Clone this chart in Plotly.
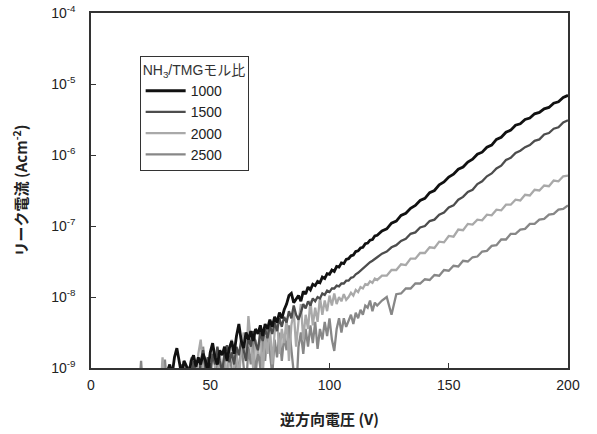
import plotly.graph_objects as go
import numpy as np

# Reverse voltage grid (V): 1 V steps up to 120 V, 2 V steps after
voltage = list(range(20, 121)) + list(range(122, 201, 2))

series_names = ["1000", "1500", "2000", "2500"]

# log10 of leakage current density (A/cm^2)
log_j_1000 = [
    -9.4, -9.4, -9.4, -9.4, -9.4, -9.4, -9.4, -9.4, -9.4, -9.4,
    -9.4, -9.4, -9.05, -8.95, -9.1, -8.85, -8.72, -8.95, -9.1, -8.9,
    -8.97, -9.1, -8.9, -8.82, -8.98, -8.85, -8.95, -8.8, -8.9, -9.05,
    -8.78, -8.65, -8.85, -8.95, -8.75, -8.82, -8.7, -8.9, -8.72, -8.62,
    -8.8, -8.55, -8.38, -8.62, -8.72, -8.5, -8.6, -8.48, -8.62, -8.45,
    -8.52, -8.4, -8.55, -8.38, -8.45, -8.32, -8.42, -8.28, -8.36, -8.22,
    -8.3, -8.18, -8.1, -7.98, -7.95, -8.08, -8.02, -7.98, -8.06, -7.92,
    -7.96, -7.86, -7.9, -7.82, -7.84, -7.78, -7.8, -7.72, -7.74, -7.67,
    -7.68, -7.62, -7.64, -7.57, -7.58, -7.52, -7.53, -7.47, -7.46, -7.42,
    -7.41, -7.36, -7.35, -7.31, -7.3, -7.25, -7.24, -7.2, -7.19, -7.14,
    -7.13,
    -7.07, -7.04, -6.96, -6.93, -6.85, -6.82, -6.75, -6.71, -6.64, -6.61,
    -6.53, -6.50, -6.42, -6.38, -6.31, -6.27, -6.20, -6.17, -6.10, -6.06,
    -5.99, -5.96, -5.89, -5.86, -5.78, -5.75, -5.68, -5.65, -5.58, -5.56,
    -5.50, -5.48, -5.42, -5.40, -5.35, -5.33, -5.27, -5.25, -5.19, -5.16,
]

log_j_1500 = [
    -9.4, -9.4, -9.4, -9.4, -9.4, -9.4, -9.4, -9.4, -9.4, -9.4,
    -9.4, -9.4, -9.4, -9.4, -9.4, -9.2, -9.05, -9.3, -8.95, -9.1,
    -9.3, -8.98, -9.15, -8.9, -9.05, -9.2, -8.9, -8.75, -9.0, -8.85,
    -9.1, -8.8, -8.95, -8.7, -8.9, -9.05, -8.8, -8.68, -8.92, -8.78,
    -8.95, -8.7, -8.82, -8.6, -8.75, -8.9, -8.55, -8.7, -8.48, -8.65,
    -8.75, -8.5, -8.62, -8.45, -8.58, -8.4, -8.52, -8.36, -8.48, -8.3,
    -8.42, -8.28, -8.36, -8.2, -8.3, -8.12, -8.25, -8.32, -8.22, -8.1,
    -8.16, -8.06, -8.12, -8.02, -8.06, -8.0, -8.02, -7.95, -7.97, -7.91,
    -7.93, -7.88, -7.88, -7.84, -7.85, -7.81, -7.81, -7.77, -7.77, -7.73,
    -7.72, -7.68, -7.66, -7.63, -7.6, -7.56, -7.54, -7.51, -7.49, -7.46,
    -7.44,
    -7.39, -7.36, -7.30, -7.27, -7.21, -7.18, -7.11, -7.09, -7.02, -7.00,
    -6.93, -6.91, -6.84, -6.81, -6.74, -6.71, -6.63, -6.59, -6.52, -6.49,
    -6.41, -6.37, -6.30, -6.26, -6.19, -6.15, -6.07, -6.04, -5.97, -5.94,
    -5.89, -5.86, -5.80, -5.78, -5.71, -5.69, -5.63, -5.61, -5.54, -5.51,
]

log_j_2000 = [
    -9.4, -9.4, -9.4, -9.4, -9.4, -9.4, -9.4, -9.4, -9.4, -9.4,
    -8.85, -9.3, -9.4, -9.2, -9.4, -9.0, -9.4, -9.1, -9.3, -8.9,
    -9.2, -9.4, -8.85, -9.1, -9.3, -8.8, -8.6, -9.0, -9.3, -8.85,
    -9.1, -8.7, -9.0, -9.3, -8.8, -9.1, -8.75, -9.2, -8.85, -8.6,
    -9.0, -8.75, -9.2, -8.7, -8.5, -8.9, -8.27, -8.7, -9.0, -8.6,
    -8.8, -8.45, -9.1, -8.55, -8.8, -8.4, -8.95, -8.5, -8.3, -8.8,
    -8.45, -8.65, -8.3, -8.9, -8.4, -8.2, -8.7, -8.35, -8.1, -8.6,
    -8.25, -8.45, -8.05, -8.4, -8.15, -8.35, -8.0, -8.25, -8.05, -8.2,
    -7.98, -8.12, -7.95, -8.1, -8.0, -8.06, -7.96, -8.04, -8.0, -7.94,
    -7.98, -7.9, -7.93, -7.86, -7.88, -7.82, -7.83, -7.78, -7.8, -7.74,
    -7.76,
    -7.70, -7.70, -7.62, -7.62, -7.54, -7.55, -7.46, -7.46, -7.38, -7.38,
    -7.30, -7.31, -7.22, -7.23, -7.14, -7.15, -7.05, -7.06, -6.97, -6.98,
    -6.91, -6.92, -6.84, -6.85, -6.77, -6.78, -6.70, -6.70, -6.63, -6.64,
    -6.56, -6.57, -6.49, -6.50, -6.43, -6.44, -6.36, -6.37, -6.30, -6.29,
]

log_j_2500 = [
    -9.4, -8.9, -9.4, -9.0, -9.4, -9.4, -9.4, -9.4, -9.4, -9.4,
    -9.4, -8.88, -9.3, -9.4, -9.1, -9.4, -9.2, -9.4, -9.0, -9.3,
    -9.4, -9.05, -9.3, -9.4, -8.95, -9.2, -9.4, -8.7, -9.1, -9.35,
    -8.9, -9.2, -9.4, -8.8, -9.1, -9.3, -8.9, -9.2, -8.75, -9.05,
    -9.3, -8.8, -9.1, -8.65, -9.0, -9.3, -8.7, -8.95, -8.6, -9.1,
    -8.75, -9.0, -8.6, -8.9, -8.45, -8.8, -9.1, -8.6, -8.85, -8.5,
    -8.9, -8.55, -8.75, -8.4, -8.8, -9.2, -9.4, -8.7, -8.5, -8.8,
    -8.45, -8.7, -8.4, -8.65, -8.35, -8.73, -8.45, -8.6, -8.35, -8.55,
    -8.3, -8.6, -8.76, -8.45, -8.3, -8.5, -8.3, -8.42, -8.34, -8.25,
    -8.38, -8.22, -8.3, -8.18, -8.25, -8.12, -8.15, -8.05, -8.2, -8.08,
    -8.12,
    -8.05, -8.0, -8.25, -7.96, -7.95, -7.88, -7.88, -7.81, -7.81, -7.75,
    -7.76, -7.69, -7.70, -7.62, -7.63, -7.56, -7.57, -7.49, -7.50, -7.44,
    -7.43, -7.36, -7.35, -7.28, -7.27, -7.19, -7.19, -7.11, -7.11, -7.05,
    -7.04, -6.97, -6.97, -6.91, -6.90, -6.84, -6.83, -6.77, -6.76, -6.71,
]

y_tick_exponents = [-9, -8, -7, -6, -5, -4]
x_tick_values = [0, 50, 100, 150, 200]

series_logs = [log_j_1000, log_j_1500, log_j_2000, log_j_2500]
series_colors = ["#111111", "#4d4d4d", "#a9a9a9", "#878787"]
series_widths = [2.8, 2.3, 2.3, 2.3]

fig = go.Figure()
# draw lighter curves first so the black curve sits on top
for idx in [3, 2, 1, 0]:
    fig.add_trace(go.Scatter(
        x=voltage,
        y=10 ** np.array(series_logs[idx]),
        mode="lines",
        name=series_names[idx],
        legendrank=idx + 1,
        line=dict(color=series_colors[idx], width=series_widths[idx]),
    ))

tick_font = dict(family="Liberation Sans, Arial, sans-serif", size=14, color="#222222")
title_font = dict(family="Noto Sans CJK JP, sans-serif", size=15, color="#222222", weight="bold")

fig.update_layout(
    width=597, height=434,
    margin=dict(l=91, r=29, t=13, b=66),
    paper_bgcolor="white", plot_bgcolor="white",
    showlegend=True,
    legend=dict(
        x=0.102, y=0.879, xanchor="left", yanchor="top",
        bgcolor="white", bordercolor="#333333", borderwidth=1,
        traceorder="normal",
        font=dict(family="Liberation Sans, Arial, Noto Sans CJK JP", size=14, color="#222222"),
        title=dict(text="NH<sub>3</sub>/TMGモル比",
                   font=dict(family="Liberation Sans, Noto Sans CJK JP", size=14, color="#333333")),
        itemwidth=40,
    ),
)

fig.update_xaxes(
    range=[0, 200], tickvals=x_tick_values, ticktext=[str(v) for v in x_tick_values],
    ticks="inside", ticklen=5, tickcolor="#333333", tickwidth=1,
    showline=True, linecolor="#333333", linewidth=1.5, mirror=True,
    showgrid=False, zeroline=False, tickfont=tick_font,
    ticklabelstandoff=3, automargin=False,
    title=dict(text="逆方向電圧 (V)", font=title_font, standoff=23),
)
fig.update_yaxes(
    type="log", range=[-9, -4],
    tickvals=[10.0 ** e for e in y_tick_exponents],
    ticktext=["10<sup>%d</sup>" % e for e in y_tick_exponents],
    ticks="inside", ticklen=5, tickcolor="#333333", tickwidth=1,
    showline=True, linecolor="#333333", linewidth=1.5, mirror=True,
    showgrid=False, zeroline=False, tickfont=tick_font,
    ticklabelstandoff=11, ticklabeloverflow="allow", automargin=False,
    title=dict(text="リーク電流 (Acm<sup>-2</sup>)", font=title_font, standoff=20),
)

# remove the default page margin so the figure fills the 597x434 window exactly
fig.write_html("out.html", config={"displayModeBar": False},
               post_script="document.body.style.margin='0';")
